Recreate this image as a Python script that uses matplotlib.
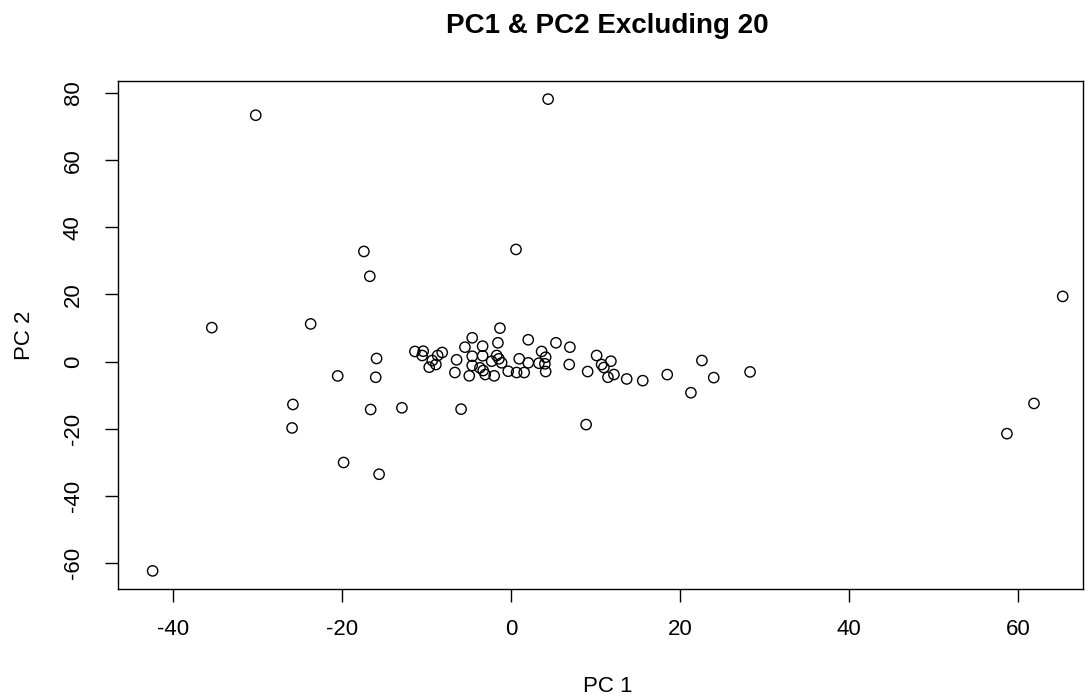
import numpy as np
import matplotlib
matplotlib.use("Agg")
import matplotlib.pyplot as plt

plt.rcParams['font.family'] = ['Liberation Sans', 'DejaVu Sans']

# PC scores
pc1 = [-42.4, -35.4, -30.2, 4.4, 65.3, 58.7, 61.9, -23.7, -17.4, -16.7,
       0.6, -25.8, -25.9, -20.5, -15.9, -16.0, -16.6, -12.9, -19.8, -15.6,
       -5.9, 8.9, 21.3, 22.6, 24.0, 28.3, 18.5, 15.6, 13.7,
       -11.36, -10.38, -10.50, -9.31, -8.67, -8.13, -9.67, -8.88, -6.43, -6.63,
       -5.44, -4.58, -4.58, -4.58, -4.93, -3.35, -3.35, -3.67, -3.28, -3.04,
       -2.28, -1.98, -1.54, -1.30, -1.69, -1.42, -1.10, -0.32, 0.67, 1.57,
       0.98, 2.05, 2.05, 3.31, 3.63, 4.11, 4.02, 4.11, 5.33, 6.98,
       6.90, 9.08, 10.14, 10.73, 11.0, 11.83, 11.48, 12.19]
pc2 = [-62.4, 10.1, 73.4, 78.2, 19.4, -21.5, -12.5, 11.2, 32.8, 25.4,
       33.4, -12.8, -19.8, -4.3, 0.9, -4.7, -14.3, -13.8, -30.1, -33.6,
       -14.2, -18.8, -9.3, 0.3, -4.8, -3.1, -3.9, -5.7, -5.2,
       2.99, 3.07, 1.79, 0.30, 1.79, 2.69, -1.70, -0.90, 0.51, -3.28,
       4.27, 7.07, 1.58, -1.19, -4.27, 4.57, 1.70, -1.88, -2.69, -3.88,
       0.09, -4.27, 5.58, 9.94, 1.79, 0.81, -0.39, -2.90, -3.28, -3.28,
       0.81, 6.48, -0.39, -0.51, 2.99, 1.28, -0.69, -2.99, 5.58, 4.27,
       -0.90, -2.99, 1.79, -0.90, -1.79, 0.09, -4.69, -3.88]

xticks = [-40, -20, 0, 20, 40, 60]
yticks = [-60, -40, -20, 0, 20, 40, 60, 80]

W, H = 1091, 698
fig = plt.figure(figsize=(W / 100, H / 100), dpi=100)
# box edges in pixels: left 118, right 1083, top 81, bottom 589
ax = fig.add_axes([118 / W, 1 - 589 / H, 965 / W, 508 / H])

ax.scatter(pc1, pc2, s=55, facecolors='none', edgecolors='black', linewidths=1.0)

ax.set_xlim(-46.5, 67.7)
ax.set_ylim(-67.8, 83.6)
ax.set_xticks(xticks)
ax.set_yticks(yticks)
ax.set_xticklabels([str(t) for t in xticks], fontsize=16)
ax.set_yticklabels([str(t) for t in yticks], fontsize=16, rotation=90, va='center')
ax.tick_params(direction='out', length=9.5, width=1)
ax.tick_params(axis='x', pad=12)
ax.tick_params(axis='y', pad=15)
for sp in ax.spines.values():
    sp.set_linewidth(1)

fig.text(608 / W, 1 - 687 / H, "PC 1", fontsize=16, ha='center', va='center')
fig.text(24 / W, 1 - 335 / H, "PC 2", fontsize=16, ha='center', va='center',
         rotation=90)
fig.text(607 / W, 1 - 26 / H, "PC1 & PC2 Excluding 20", fontsize=20,
         fontweight='bold', ha='center', va='center')

fig.savefig("out.png", dpi=100)
